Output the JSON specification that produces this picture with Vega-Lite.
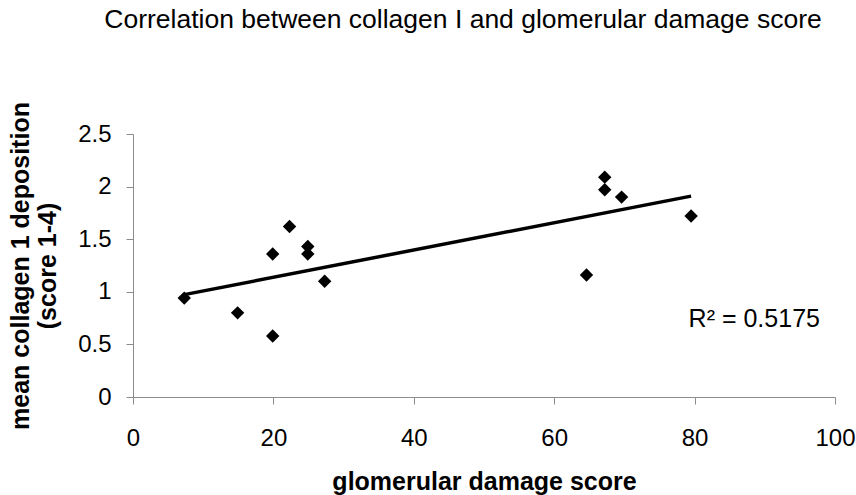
{
  "$schema": "https://vega.github.io/schema/vega-lite/v6.json",
  "width": 702,
  "height": 263,
  "autosize": {"type": "none"},
  "padding": {"left": 133, "top": 134, "right": 21, "bottom": 98},
  "background": "white",
  "config": {
    "view": {"stroke": null},
    "font": "Liberation Sans",
    "axis": {"grid": false, "domainColor": "#8c8c8c", "tickColor": "#8c8c8c", "tickSize": 7, "domainWidth": 1, "tickWidth": 1, "labelColor": "black", "titleColor": "black", "labelFont": "Liberation Sans", "titleFont": "Liberation Sans"}
  },
  "title": {
    "text": "Correlation between collagen I and glomerular damage score",
    "fontSize": 26.5,
    "fontWeight": "normal",
    "font": "Liberation Sans",
    "color": "black",
    "anchor": "middle",
    "dx": -21,
    "offset": 68
  },
  "data": {
    "values": [
      {"x": 7.3, "y": 0.94},
      {"x": 14.9, "y": 0.80},
      {"x": 19.9, "y": 1.36},
      {"x": 19.9, "y": 0.58},
      {"x": 22.3, "y": 1.62},
      {"x": 24.9, "y": 1.43},
      {"x": 24.9, "y": 1.36},
      {"x": 27.3, "y": 1.10},
      {"x": 64.6, "y": 1.16},
      {"x": 67.2, "y": 2.09},
      {"x": 67.2, "y": 1.97},
      {"x": 69.6, "y": 1.90},
      {"x": 79.5, "y": 1.72}
    ]
  },
  "layer": [
    {
      "mark": {"type": "point", "shape": "diamond", "filled": true, "color": "black", "size": 180, "opacity": 1},
      "encoding": {
        "x": {"field": "x", "type": "quantitative", "scale": {"domain": [0, 100], "nice": false, "zero": true},
          "axis": {"values": [0, 20, 40, 60, 80, 100], "title": "glomerular damage score", "titleFontSize": 25, "titleFontWeight": "bold", "labelFontSize": 24, "labelPadding": 22, "titlePadding": 19, "labelFlush": false}},
        "y": {"field": "y", "type": "quantitative", "scale": {"domain": [0, 2.5], "nice": false},
          "axis": {"values": [0, 0.5, 1, 1.5, 2, 2.5], "format": "~g", "title": ["mean collagen 1 deposition", "(score 1-4)"], "titleFontSize": 25, "titleFontWeight": "bold", "titleLineHeight": 27, "labelFontSize": 24, "labelPadding": 15, "titlePadding": 17, "labelFlush": false}}
      }
    },
    {
      "transform": [{"regression": "y", "on": "x", "method": "linear"}],
      "mark": {"type": "line", "color": "black", "strokeWidth": 3.5},
      "encoding": {
        "x": {"field": "x", "type": "quantitative"},
        "y": {"field": "y", "type": "quantitative"}
      }
    },
    {
      "data": {"values": [{"x": 88.5, "y": 0.74, "label": "R² = 0.5175"}]},
      "mark": {"type": "text", "fontSize": 25, "font": "Liberation Sans", "color": "black", "align": "center", "baseline": "middle"},
      "encoding": {
        "x": {"field": "x", "type": "quantitative"},
        "y": {"field": "y", "type": "quantitative"},
        "text": {"field": "label"}
      }
    }
  ]
}
